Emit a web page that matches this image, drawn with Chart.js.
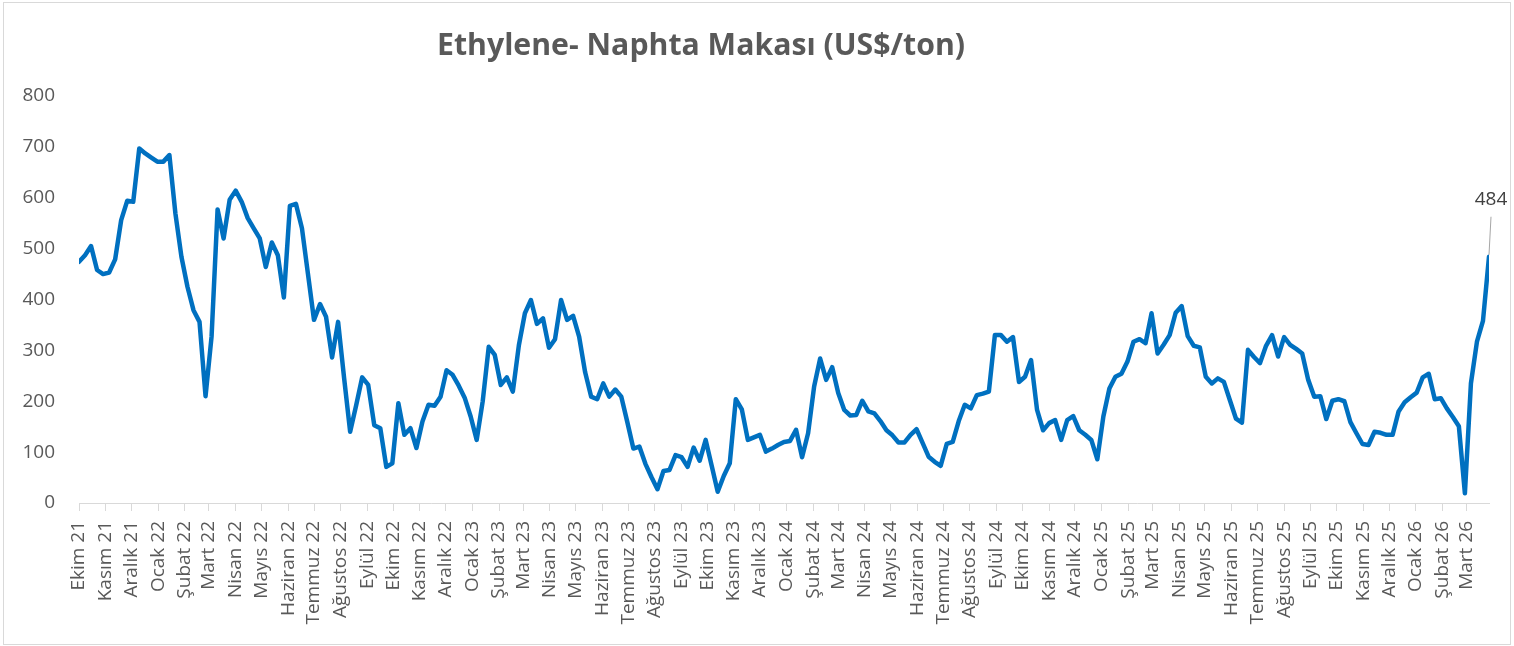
<!DOCTYPE html>
<html lang="tr">
<head>
<meta charset="UTF-8">
<title>Ethylene- Naphta Makası</title>
<script src="https://cdn.jsdelivr.net/npm/chart.js@4.4.1/dist/chart.umd.min.js"></script>
<style>
    html, body { margin: 0; padding: 0; background: #ffffff; }
    canvas { display: block; }
</style>
</head>
<body>
<canvas id="spreadChart" width="1514" height="646"></canvas>
<script>
// Haftalık veri, ilk hafta Ekim 2021 başı
const startDate = Date.UTC(2021, 9, 1);
const weekDays = 7;

const monthLabels = [
    "Ekim 21", "Kasım 21", "Aralık 21",
    "Ocak 22", "Şubat 22", "Mart 22", "Nisan 22", "Mayıs 22", "Haziran 22",
    "Temmuz 22", "Ağustos 22", "Eylül 22", "Ekim 22", "Kasım 22", "Aralık 22",
    "Ocak 23", "Şubat 23", "Mart 23", "Nisan 23", "Mayıs 23", "Haziran 23",
    "Temmuz 23", "Ağustos 23", "Eylül 23", "Ekim 23", "Kasım 23", "Aralık 23",
    "Ocak 24", "Şubat 24", "Mart 24", "Nisan 24", "Mayıs 24", "Haziran 24",
    "Temmuz 24", "Ağustos 24", "Eylül 24", "Ekim 24", "Kasım 24", "Aralık 24",
    "Ocak 25", "Şubat 25", "Mart 25", "Nisan 25", "Mayıs 25", "Haziran 25",
    "Temmuz 25", "Ağustos 25", "Eylül 25", "Ekim 25", "Kasım 25", "Aralık 25",
    "Ocak 26", "Şubat 26", "Mart 26"
];

// Ethylene - Naphta makası (US$/ton), haftalık
const spreadValues = [
    474, 487, 505, 458, 450, 453, 479, 556, 594, 592, 697, 687, 679, 671, 671, 684, 569, 484, 425, 379,
    356, 210, 327, 577, 520, 596, 614, 592, 560, 540, 520, 464, 512, 487, 404, 584, 588, 540, 450, 360,
    391, 366, 286, 356, 245, 140, 192, 247, 232, 153, 147, 71, 78, 196, 134, 147, 108, 160, 193, 191,
    209, 261, 252, 231, 207, 170, 124, 200, 307, 291, 232, 247, 219, 310, 373, 399, 352, 363, 305, 322,
    399, 360, 368, 327, 257, 209, 204, 235, 209, 223, 209, 159, 107, 111, 77, 51, 27, 63, 65, 94,
    90, 71, 109, 83, 124, 73, 22, 53, 78, 204, 184, 124, 129, 134, 101, 107, 114, 120, 122, 144,
    90, 137, 229, 284, 242, 267, 216, 183, 172, 173, 201, 180, 176, 161, 143, 133, 119, 119, 134, 145,
    118, 91, 81, 73, 116, 120, 161, 193, 186, 212, 215, 219, 330, 330, 317, 326, 238, 248, 281, 183,
    143, 157, 163, 124, 163, 171, 143, 134, 124, 86, 170, 225, 248, 254, 278, 317, 322, 314, 373, 294,
    311, 330, 374, 387, 328, 309, 306, 248, 235, 245, 238, 202, 166, 158, 301, 287, 275, 309, 330, 288,
    326, 311, 303, 294, 242, 209, 210, 165, 201, 204, 200, 159, 137, 116, 114, 140, 138, 134, 134, 180,
    198, 208, 217, 247, 254, 204, 206, 186, 169, 151, 19, 235, 317, 358, 484
];

const yTicks = [0, 100, 200, 300, 400, 500, 600, 700, 800];

const titleText = "Ethylene- Naphta Makası (US$/ton)";
const textGray = "#595959";
const lineBlue = "#0070C0";

// Ay başlarının gün cinsinden konumu
const monthStarts = monthLabels.map((label, i) => (Date.UTC(2021, 9 + i, 1) - startDate) / 86400000);

const points = spreadValues.map((v, i) => ({ x: i * weekDays, y: v }));

// Başlık ve dış çerçeve
const frameAndTitle = {
    id: "frameAndTitle",
    beforeDraw(chart) {
        const ctx = chart.ctx;
        ctx.save();
        ctx.fillStyle = "#ffffff";
        ctx.fillRect(0, 0, chart.width, chart.height);
        ctx.strokeStyle = "#d9d9d9";
        ctx.lineWidth = 1;
        ctx.strokeRect(3.5, 2.5, 1507, 642);

        ctx.font = "bold 30px 'Open Sans'";
        const w = ctx.measureText(titleText).width;
        const sx = 528 / w;
        ctx.translate(701, 55);
        ctx.scale(sx, 1);
        ctx.fillStyle = textGray;
        ctx.textAlign = "center";
        ctx.textBaseline = "alphabetic";
        ctx.fillText(titleText, 0, 0);
        ctx.restore();
    }
};

// Son değerin etiketi
const lastValueLabel = {
    id: "lastValueLabel",
    afterDatasetsDraw(chart) {
        const pts = chart.getDatasetMeta(0).data;
        const p = pts[pts.length - 1];
        const ctx = chart.ctx;
        ctx.save();
        ctx.strokeStyle = "#a6a6a6";
        ctx.lineWidth = 1;
        ctx.beginPath();
        ctx.moveTo(p.x, p.y - 2);
        ctx.lineTo(p.x + 2, p.y - 40);
        ctx.stroke();
        ctx.fillStyle = "#404040";
        ctx.font = "19px 'Open Sans'";
        ctx.textAlign = "center";
        ctx.textBaseline = "alphabetic";
        ctx.fillText(String(spreadValues[spreadValues.length - 1]), p.x + 2, p.y - 52);
        ctx.restore();
    }
};

function renderSpreadChart() {
    const ctx = document.getElementById("spreadChart").getContext("2d");

    new Chart(ctx, {
        type: "line",
        data: {
            datasets: [{
                label: "Ethylene- Naphta Makası",
                data: points,
                borderColor: lineBlue,
                borderWidth: 4.5,
                borderJoinStyle: "round",
                borderCapStyle: "round",
                pointRadius: 0,
                tension: 0,
                fill: false
            }]
        },
        options: {
            responsive: false,
            animation: false,
            layout: {
                padding: { top: 96, right: 25, left: 0, bottom: 0 }
            },
            plugins: {
                legend: { display: false },
                tooltip: { enabled: false },
                title: { display: false }
            },
            scales: {
                x: {
                    type: "linear",
                    min: 0,
                    max: (spreadValues.length - 1) * weekDays,
                    afterBuildTicks: scale => {
                        scale.ticks = monthStarts.map(v => ({ value: v }));
                    },
                    afterFit: scale => { scale.height = 143; },
                    grid: {
                        display: true,
                        drawOnChartArea: false,
                        drawTicks: true,
                        tickLength: 8,
                        color: "#d9d9d9"
                    },
                    border: { display: true, color: "#d9d9d9", width: 1 },
                    ticks: {
                        autoSkip: false,
                        minRotation: 90,
                        maxRotation: 90,
                        padding: 10,
                        color: textGray,
                        font: { family: "'Open Sans'", size: 19 },
                        callback: (value, index) => monthLabels[index]
                    }
                },
                y: {
                    min: 0,
                    max: 800,
                    afterBuildTicks: scale => {
                        scale.ticks = yTicks.map(v => ({ value: v }));
                    },
                    afterFit: scale => { scale.width = 79; },
                    grid: { display: false, drawTicks: false },
                    border: { display: false },
                    ticks: {
                        padding: 24,
                        color: textGray,
                        font: { family: "'Open Sans'", size: 19 }
                    }
                }
            }
        },
        plugins: [frameAndTitle, lastValueLabel]
    });
}

document.addEventListener("DOMContentLoaded", function () {
    renderSpreadChart();
});
</script>
</body>
</html>
